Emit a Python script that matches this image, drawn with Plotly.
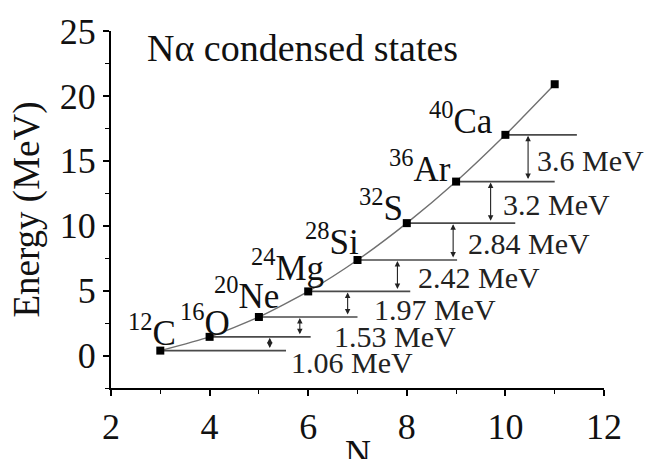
import plotly.graph_objects as go

# alpha-condensed state energies (MeV) vs number of alpha particles
n_alpha = [3, 4, 5, 6, 7, 8, 9, 10, 11]
energy = [0.38, 1.44, 2.97, 4.94, 7.36, 10.20, 13.40, 17.00, 20.9]

# nucleus labels for N = 3..10 (mass number, symbol)
mass_numbers = ["12", "16", "20", "24", "28", "32", "36", "40"]
symbols = ["C", "O", "Ne", "Mg", "Si", "S", "Ar", "Ca"]

# level spacings between neighbouring states (MeV)
spacing = [1.06, 1.53, 1.97, 2.42, 2.84, 3.2, 3.6]
spacing_text = ["1.06", "1.53", "1.97", "2.42", "2.84", "3.2", "3.6"]

x_ticks = [2, 4, 6, 8, 10, 12]
y_ticks = [0, 5, 10, 15, 20, 25]

# layout helpers: where each level line ends, where each arrow sits,
# and where the text labels go
level_end = [5.55, 6.05, 7.0, 8.07, 9.02, 10.2, 11.0, 11.45]
arrow_x = [5.22, 5.83, 6.8, 7.81, 8.94, 9.7, 10.46]
gap_label_pos = [(5.63, -0.55), (6.5, 1.5), (7.31, 3.55), (8.2, 6.0),
                 (9.22, 8.65), (9.93, 11.65), (10.62, 15.0)]
nucleus_label_pos = [(2.83, 1.9), (3.9, 2.7), (4.74, 4.8), (5.57, 6.95),
                     (6.48, 8.95), (7.48, 11.55), (8.27, 14.55), (9.1, 18.25)]

FONT = "Liberation Serif, Times New Roman, serif"

fig = go.Figure()

# level lines
for i in range(len(level_end)):
    fig.add_trace(go.Scatter(
        x=[n_alpha[i], level_end[i]], y=[energy[i], energy[i]],
        mode="lines", line=dict(color="#4a4a4a", width=1.6),
        hoverinfo="skip", showlegend=False))

# systematics curve with markers
fig.add_trace(go.Scatter(
    x=n_alpha, y=energy, mode="lines+markers",
    line=dict(color="#707070", width=1.4, shape="spline", smoothing=0.6),
    marker=dict(symbol="square", size=8, color="black"),
    showlegend=False))

annotations = []

# double-headed spacing arrows and their labels
for i, gap in enumerate(spacing):
    annotations.append(dict(
        x=arrow_x[i], y=energy[i] + gap, ax=arrow_x[i], ay=energy[i],
        xref="x", yref="y", axref="x", ayref="y", text="",
        showarrow=True, arrowhead=2, arrowside="end+start",
        arrowsize=1.0, arrowwidth=1.1, arrowcolor="#222222",
        standoff=1, startstandoff=1))
    gx, gy = gap_label_pos[i]
    annotations.append(dict(
        x=gx, y=gy, xref="x", yref="y", text=spacing_text[i] + " MeV",
        showarrow=False, xanchor="left", yanchor="middle", borderpad=0,
        font=dict(family=FONT, size=30, color="#222222")))

# nucleus labels
for i, (a, s) in enumerate(zip(mass_numbers, symbols)):
    lx, ly = nucleus_label_pos[i]
    annotations.append(dict(
        x=lx, y=ly, xref="x", yref="y",
        text=f"<sup>{a}</sup>{s}", showarrow=False,
        xanchor="center", yanchor="middle", borderpad=0,
        font=dict(family=FONT, size=35, color="#111111")))

# panel title
annotations.append(dict(
    x=2.69, y=23.7, xref="x", yref="y", text="N\u03b1 condensed states",
    showarrow=False, xanchor="left", yanchor="middle",
    font=dict(family=FONT, size=38, color="#111111")))

# x-axis title
annotations.append(dict(
    x=7.0, y=-0.122, xref="x", yref="paper", text="N",
    showarrow=False, xanchor="center", yanchor="top", borderpad=0,
    font=dict(family=FONT, size=36, color="#111111")))

fig.update_layout(
    width=648, height=459,
    margin=dict(l=111, r=44, t=30, b=62),
    paper_bgcolor="white", plot_bgcolor="white",
    font=dict(family=FONT, color="#111111"),
    annotations=annotations,
    xaxis=dict(
        range=[2, 12], tickvals=x_ticks, ticks="outside", ticklen=6,
        tickwidth=1.5, tickcolor="black", showline=True, linecolor="black",
        linewidth=2, showgrid=False, zeroline=False,
        tickfont=dict(family=FONT, size=36),
        minor=dict(tickvals=[3, 5, 7, 9, 11], ticks="outside", ticklen=4,
                   tickwidth=1.2, tickcolor="black", showgrid=False)),
    yaxis=dict(
        range=[-2.5, 25], tickvals=y_ticks, ticks="outside", ticklen=6,
        tickwidth=1.5, tickcolor="black", showline=True, linecolor="black",
        linewidth=2, showgrid=False, zeroline=False,
        tickfont=dict(family=FONT, size=36),
        title=dict(text="Energy (MeV)", font=dict(family=FONT, size=37),
                   standoff=9),
        minor=dict(tickvals=[-2.5, 2.5, 7.5, 12.5, 17.5, 22.5],
                   ticks="outside", ticklen=4, tickwidth=1.2,
                   tickcolor="black", showgrid=False)),
)

fig.write_html("out.html")
